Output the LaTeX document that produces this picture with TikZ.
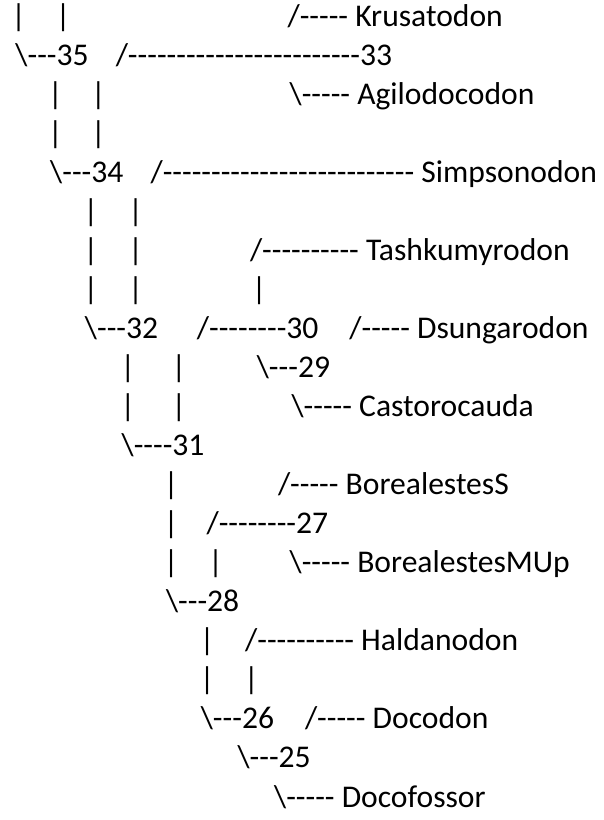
\documentclass[tikz,border=0pt]{standalone}
\usepackage{fontspec}
\newfontfamily\tf{Carlito}
\newcommand{\bs}{\textbackslash}
\tikzset{t/.style={anchor=base west, inner sep=0pt, outer sep=0pt, font=\tf\fontsize{31.6pt}{39pt}\selectfont}}
\newcommand{\T}[4]{\node[t] (#1) at (#2pt,{-((#3-1)*39.05+26)*1pt}) {#4};}
\begin{document}
\begin{tikzpicture}
\useasboundingbox[fill=white] (0,0) rectangle (603pt,-820pt);
% line 1
\T{a1}{11.4}{1}{|}
\T{b1}{55.8}{1}{|}
\T{c1}{287.6}{1}{/----- Krusatodon}
% line 2
\T{a2}{15.4}{2}{\bs---35}
\T{b2}{115.8}{2}{/------------------------33}
% line 3
\T{a3}{48}{3}{|}
\T{b3}{91}{3}{|}
\T{c3}{289.6}{3}{\bs----- Agilodocodon}
% line 4
\T{a4}{48}{4}{|}
\T{b4}{91}{4}{|}
% line 5
\T{a5}{50.2}{5}{\bs---34}
\T{b5}{150.6}{5}{/-------------------------- Simpsonodon}
% line 6
\T{a6}{83.6}{6}{|}
\T{b6}{128.4}{6}{|}
% line 7
\T{a7}{83.6}{7}{|}
\T{b7}{128.4}{7}{|}
\T{c7}{250}{7}{/---------- Tashkumyrodon}
% line 8
\T{a8}{83.6}{8}{|}
\T{b8}{128.4}{8}{|}
\T{c8}{251.9}{8}{|}
% line 9
\T{a9}{84.9}{9}{\bs---32}
\T{b9}{196.9}{9}{/--------30}
\T{c9}{349.4}{9}{/----- Dsungarodon}
% line 10
\T{a10}{120.6}{10}{|}
\T{b10}{171.6}{10}{|}
\T{c10}{256.8}{10}{\bs---29}
% line 11
\T{a11}{120.6}{11}{|}
\T{b11}{171.6}{11}{|}
\T{c11}{291.5}{11}{\bs----- Castorocauda}
% line 12
\T{a12}{121.6}{12}{\bs----31}
% line 13
\T{a13}{163.9}{13}{|}
\T{b13}{278}{13}{/----- BorealestesS}
% line 14
\T{a14}{163.9}{14}{|}
\T{b14}{206.6}{14}{/--------27}
% line 15
\T{a15}{163.9}{15}{|}
\T{b15}{208.3}{15}{|}
\T{c15}{289.6}{15}{\bs----- BorealestesMUp}
% line 16
\T{a16}{166}{16}{\bs---28}
% line 17
\T{a17}{199.8}{17}{|}
\T{b17}{245.2}{17}{/---------- Haldanodon}
% line 18
\T{a18}{199.8}{18}{|}
\T{b18}{244.2}{18}{|}
% line 19
\T{a19}{200.8}{19}{\bs---26}
\T{b19}{305}{19}{/----- Docodon}
% line 20
\T{a20}{237.5}{20}{\bs---25}
% line 21
\T{a21}{274.1}{21}{\bs----- Docofossor}
\end{tikzpicture}
\end{document}
